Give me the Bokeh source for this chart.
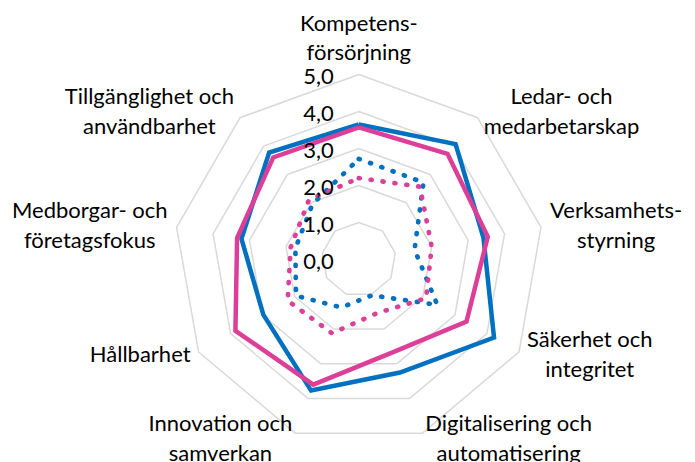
import numpy as np
from bokeh.plotting import figure
from bokeh.models import Range1d
from bokeh.core.properties import value
from bokeh.embed import file_html
from bokeh.resources import INLINE

# ---------------- data ----------------
categories = [
    "Kompetens-\nförsörjning",
    "Ledar- och\nmedarbetarskap",
    "Verksamhets-\nstyrning",
    "Säkerhet och\nintegritet",
    "Digitalisering och\nautomatisering",
    "Innovation och\nsamverkan",
    "Hållbarhet",
    "Medborgar- och\nföretagsfokus",
    "Tillgänglighet och\nanvändbarhet",
]
blue_solid = [3.65, 4.07, 3.42, 4.22, 3.25, 3.77, 2.98, 3.22, 3.77]
pink_solid = [3.57, 3.73, 3.54, 3.36, 2.67, 3.60, 3.85, 3.34, 3.60]
blue_dotted = [2.72, 2.72, 1.53, 2.45, 1.03, 1.38, 1.96, 1.74, 1.95]
pink_dotted = [2.20, 2.57, 2.00, 2.10, 1.53, 2.12, 2.22, 1.87, 2.10]
tick_values = [0, 1, 2, 3, 4, 5]
tick_labels = ["0,0", "1,0", "2,0", "3,0", "4,0", "5,0"]

# ---------------- layout ----------------
W, H = 695, 462
CX, CY = 358.3, 259.0   # centre in pixels
UNIT = 37.0             # pixels per value unit
FONT = "Lato"
FSIZE = "22px"
BLUE = "#0070C0"
PINK = "#DD3F98"
GRID = "#D9D9D9"

n = len(categories)
theta = 2 * np.pi * np.arange(n) / n

def polar(vals):
    v = np.asarray(vals, dtype=float)
    xs = v * np.sin(theta)
    ys = v * np.cos(theta)
    return list(xs) + [xs[0]], list(ys) + [ys[0]]

p = figure(width=W, height=H, output_backend="svg", toolbar_location=None,
           x_range=Range1d(-CX / UNIT, (W - CX) / UNIT),
           y_range=Range1d(-(H - CY) / UNIT, CY / UNIT),
           x_axis_type=None, y_axis_type=None, min_border=0)
p.grid.visible = False
p.outline_line_color = None
p.background_fill_color = "white"
p.border_fill_color = "white"

# grid rings
for tv in tick_values[1:]:
    gx, gy = polar([tv] * n)
    p.line(gx, gy, line_color=GRID, line_width=1.5)

# series
for vals, col in [(blue_dotted, BLUE), (pink_dotted, PINK)]:
    sx, sy = polar(vals)
    p.line(sx, sy, line_color=col, line_width=4.7, line_dash="1 11", line_cap="round")
for vals, col in [(blue_solid, BLUE), (pink_solid, PINK)]:
    sx, sy = polar(vals)
    p.line(sx, sy, line_color=col, line_width=4.5, line_join="miter")

# tick labels along the vertical axis
p.text(x=[-0.68] * len(tick_values), y=[v - 0.05 for v in tick_values], text=tick_labels,
       text_align="right", text_baseline="middle", text_font=value(FONT),
       text_font_size=FSIZE, text_color="#000000")

# category labels
LR = 5.25
for i, lab in enumerate(categories):
    s, c = np.sin(theta[i]), np.cos(theta[i])
    if abs(s) < 0.1:
        anchor = "bottom_center"
        dy = 0.0
    else:
        anchor = "center_left" if s > 0 else "center_right"
        dy = 2.6 * (0.766 - c) / UNIT
    p.text(x=[LR * s], y=[LR * c + dy], text=[lab], anchor=anchor,
           text_align="center", text_baseline="middle",
           text_font=value(FONT), text_font_size=FSIZE, text_color="#000000",
           text_line_height=1.1)

open("out.html", "w").write(file_html(p, INLINE))
